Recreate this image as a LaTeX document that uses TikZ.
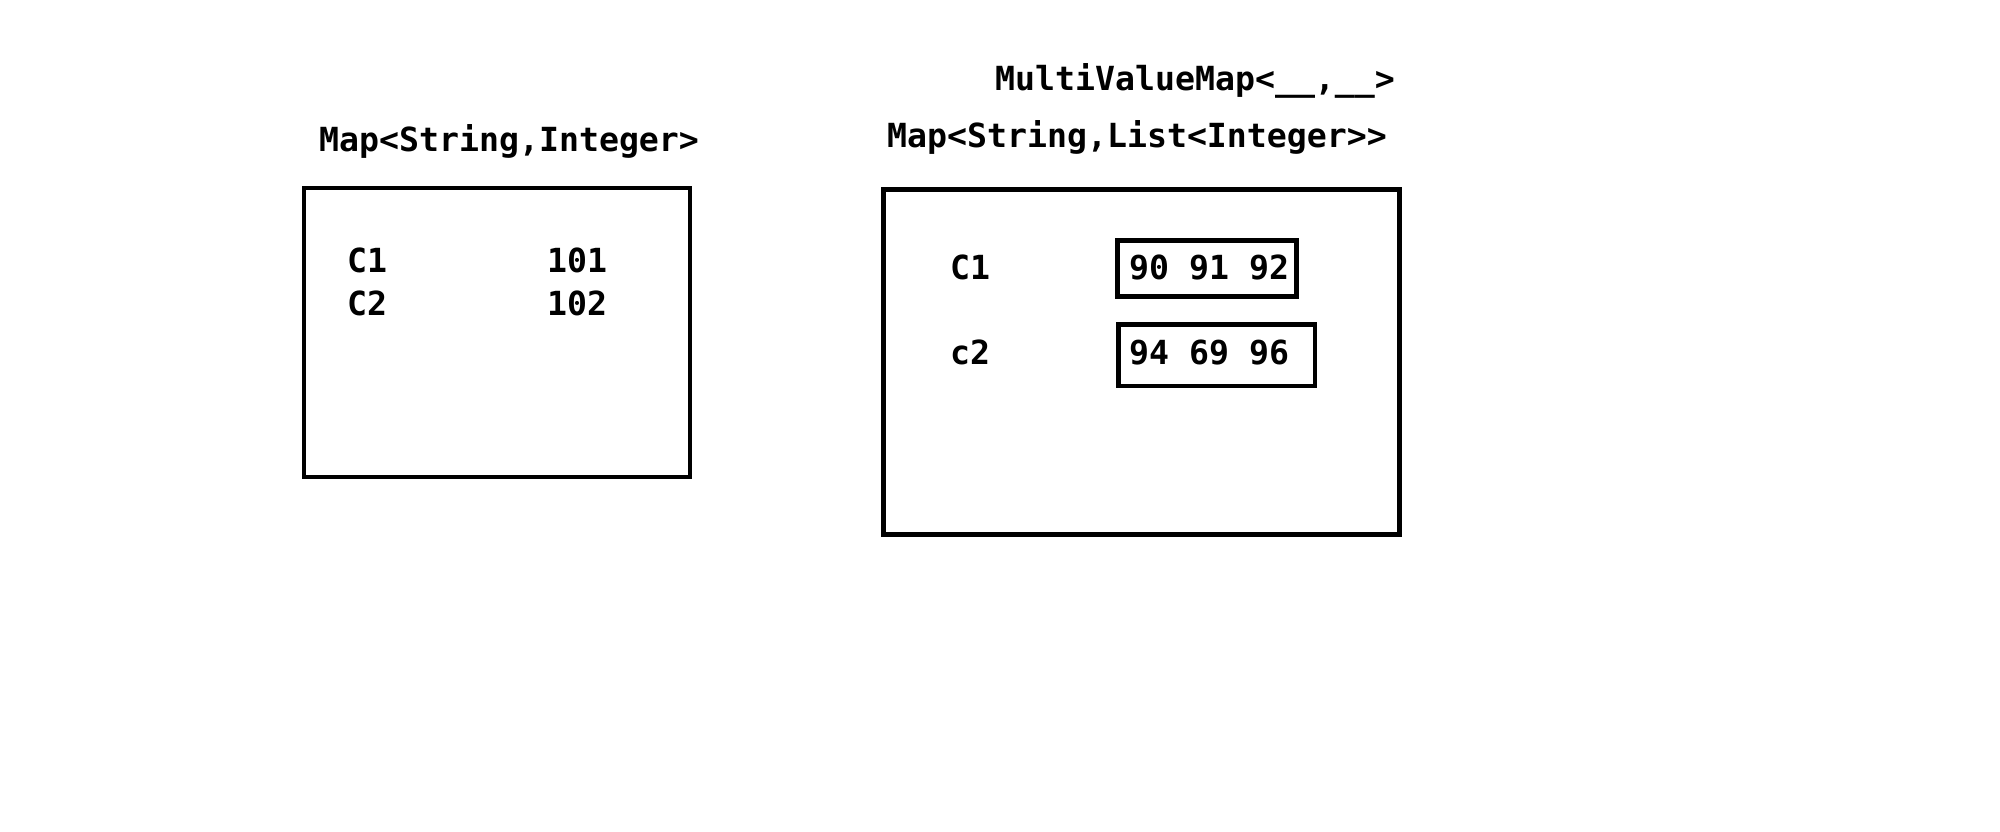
\documentclass[tikz,border=0pt]{standalone}
\usepackage{fontspec}
\setmainfont{DejaVu Sans Mono}[Ligatures=ResetAll]
\begin{document}
\begin{tikzpicture}[x=1pt,y=-1pt,
  txt/.style={anchor=base west,inner sep=0pt,font=\fontsize{33.2}{36}\selectfont\bfseries},
  box/.style={draw=black,line width=4.5pt}]
\useasboundingbox (0,0) rectangle (2000,832);
% left map
\node[txt] (lt) at (319,152) {Map<String,Integer>};
\draw[box] (304,188) rectangle (690,477);
\node[txt] (lk1) at (347,272.7) {C1};
\node[txt] (lv1) at (547,272.7) {101};
\node[txt] (lk2) at (347,315) {C2};
\node[txt] (lv2) at (547,315) {102};
% right map
\node[txt] (rt1) at (995,91) {MultiValueMap<\_\_,\_\_>};
\node[txt] (rt2) at (887,147.5) {Map<String,List<Integer>{}>};
\draw[box] (883.5,189.5) rectangle (1399.5,534.5);
\node[txt] (rk1) at (950,279.3) {C1};
\node[txt] (rk2) at (950,364) {c2};
\draw[box] (1117.5,240.5) rectangle (1296.5,296.5);
\draw[box] (1118.5,324.5) rectangle (1315,386);
\node[txt] (rv1) at (1129,279.3) {90 91 92};
\node[txt] (rv2) at (1129,364) {94 69 96};
\end{tikzpicture}
\end{document}
